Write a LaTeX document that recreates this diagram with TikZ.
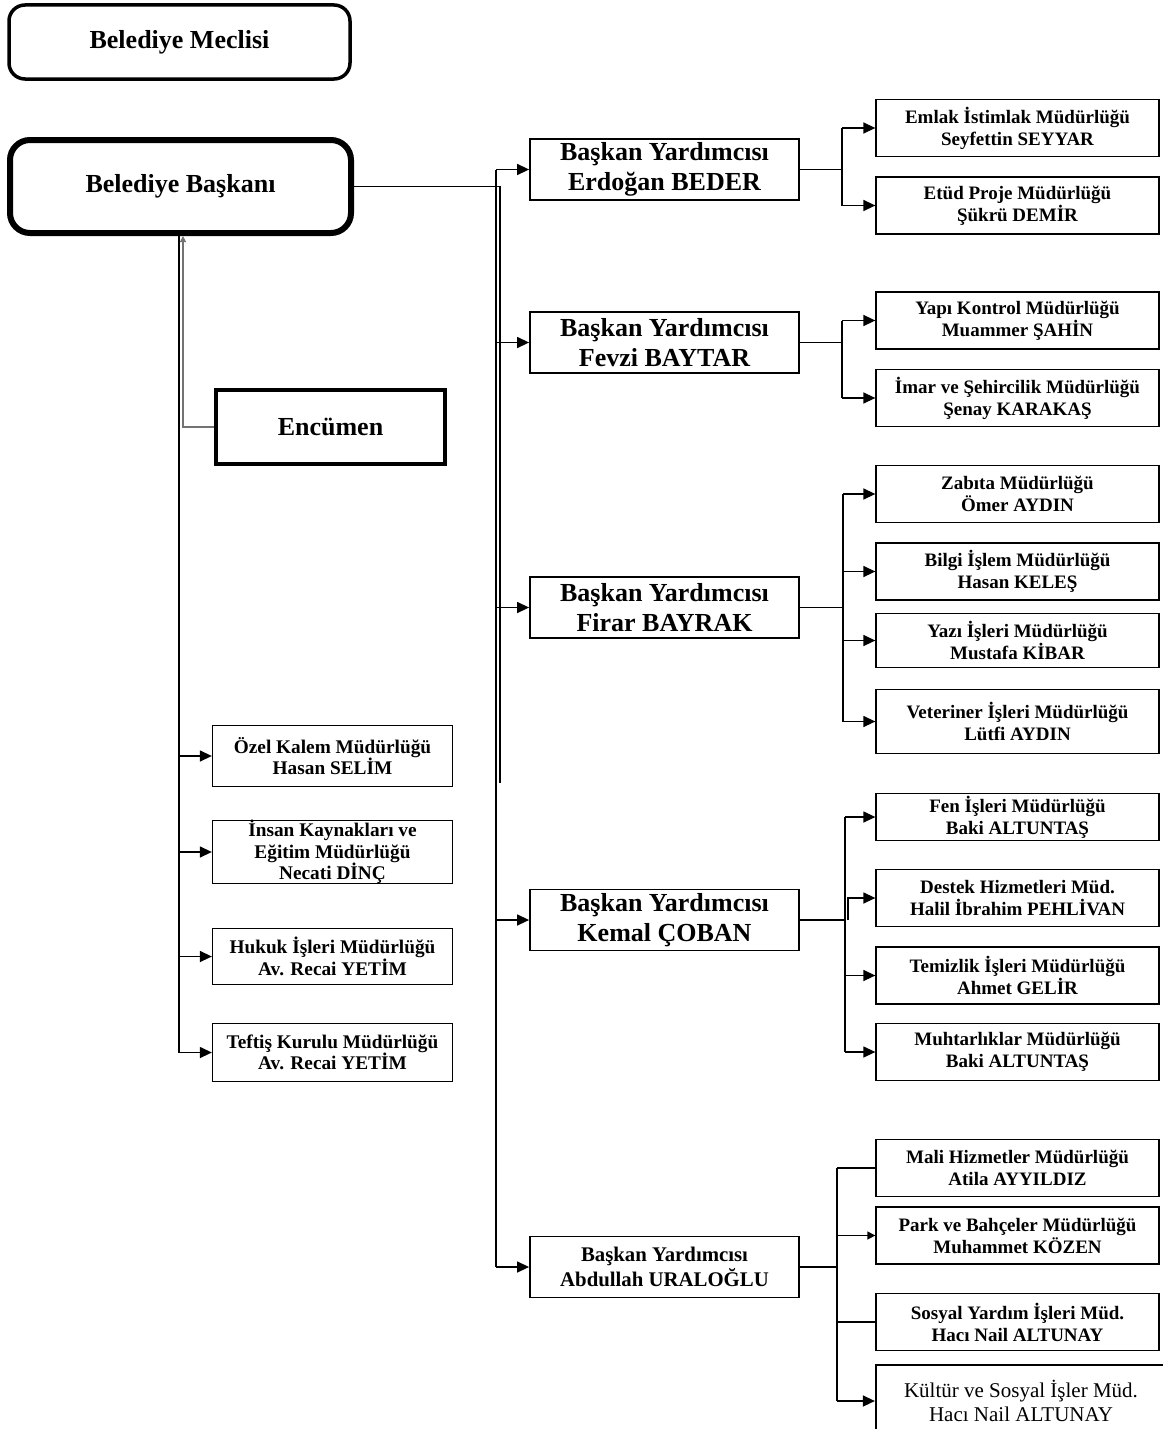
\documentclass[tikz,border=0pt]{standalone}
\usepackage{fontspec}
\setmainfont{Liberation Serif}
\usetikzlibrary{arrows.meta}
\tikzset{
  boss/.style={draw, align=center, inner sep=0pt, font=\fontsize{26}{30}\selectfont\bfseries},
  vice/.style={draw, line width=1.8pt, minimum width=269pt, minimum height=61pt, align=center, inner sep=0pt, font=\fontsize{26}{30}\selectfont\bfseries},
  unit/.style={draw, line width=1.3pt, minimum width=283pt, minimum height=57pt, align=center, inner sep=0pt, font=\fontsize{19}{22}\selectfont\bfseries},
  staff/.style={unit, minimum width=240pt, font=\fontsize{19.3}{21.5}\selectfont\bfseries},
  conn/.style={line width=1.4pt},
  arr/.style={conn, -{Triangle[length=12pt,width=11pt]}},
  gline/.style={line width=1.1pt, black!55}
}
\begin{document}
\begin{tikzpicture}[x=1pt, y=-1pt]
  \useasboundingbox (0,0) rectangle (1162,1429);

  \node[boss, line width=3.5pt, rounded corners=16pt, minimum width=341pt, minimum height=74pt] (mec) at (179.5,42) {Belediye Meclisi};
  \node[boss, line width=6pt, rounded corners=20pt, minimum width=341pt, minimum height=93pt] (bsk) at (180.5,186.5) {Belediye Başkanı};
  \node[boss, line width=4pt, minimum width=229pt, minimum height=74pt] (enc) at (330.5,427) {Encümen};

  \node[vice] (vp1) at (664.5,169.5) {Başkan Yardımcısı\\Erdoğan BEDER};
  \node[vice] (vp2) at (664.5,342.5) {Başkan Yardımcısı\\Fevzi BAYTAR};
  \node[vice] (vp3) at (664.5,607.5) {Başkan Yardımcısı\\Firar BAYRAK};
  \node[vice] (vp4) at (664.5,920) {Başkan Yardımcısı\\Kemal ÇOBAN};
  \node[vice, font=\fontsize{20.8}{25}\selectfont\bfseries] (vp5) at (664.5,1267) {Başkan Yardımcısı\\Abdullah URALOĞLU};

  \node[unit] (emlak) at (1017.5,128) {Emlak İstimlak Müdürlüğü\\Seyfettin SEYYAR};
  \node[unit] (etud) at (1017.5,205.5) {Etüd Proje Müdürlüğü\\Şükrü DEMİR};
  \node[unit] (yapi) at (1017.5,320.5) {Yapı Kontrol Müdürlüğü\\Muammer ŞAHİN};
  \node[unit] (imar) at (1017.5,398) {İmar ve Şehircilik Müdürlüğü\\Şenay KARAKAŞ};
  \node[unit] (zabita) at (1017.5,494) {Zabıta Müdürlüğü\\Ömer AYDIN};
  \node[unit] (bilgi) at (1017.5,571.5) {Bilgi İşlem Müdürlüğü\\Hasan KELEŞ};
  \node[unit, minimum height=54pt] (yazi) at (1017.5,640.5) {Yazı İşleri Müdürlüğü\\Mustafa KİBAR};
  \node[unit, minimum height=64pt] (veter) at (1017.5,721.5) {Veteriner İşleri Müdürlüğü\\Lütfi AYDIN};
  \node[unit, minimum height=47pt] (fen) at (1017.5,817) {Fen İşleri Müdürlüğü\\Baki ALTUNTAŞ};
  \node[unit] (destek) at (1017.5,898) {Destek Hizmetleri Müd.\\Halil İbrahim PEHLİVAN};
  \node[unit] (temiz) at (1017.5,975.5) {Temizlik İşleri Müdürlüğü\\Ahmet GELİR};
  \node[unit] (muhtar) at (1017.5,1052) {Muhtarlıklar Müdürlüğü\\Baki ALTUNTAŞ};
  \node[unit] (mali) at (1017.5,1168) {Mali Hizmetler Müdürlüğü\\Atila AYYILDIZ};
  \node[unit] (park) at (1017.5,1235.5) {Park ve Bahçeler Müdürlüğü\\Muhammet KÖZEN};
  \node[unit] (sosyal) at (1017.5,1322) {Sosyal Yardım İşleri Müd.\\Hacı Nail ALTUNAY};
  \node[unit, line width=2.2pt, minimum width=290pt, minimum height=72pt, font=\fontsize{21}{24}\selectfont] (kultur) at (1021,1401) {Kültür ve Sosyal İşler Müd.\\Hacı Nail ALTUNAY};

  \node[staff, minimum height=61pt] (ozel) at (332.5,756) {Özel Kalem Müdürlüğü\\Hasan SELİM};
  \node[staff, minimum height=59pt] (insan) at (332.5,852) {İnsan Kaynakları ve\\Eğitim Müdürlüğü\\Necati DİNÇ};
  \node[staff, minimum height=56pt] (hukuk) at (332.5,956.5) {Hukuk İşleri Müdürlüğü\\Av. Recai YETİM};
  \node[staff, minimum height=58pt] (teftis) at (332.5,1052.5) {Teftiş Kurulu Müdürlüğü\\Av. Recai YETİM};

  \coordinate (drop) at (500,783);
  \coordinate (trunk) at (496,0);
  \coordinate (stf) at (179,0);
  \coordinate (encx) at (183,0);
  \coordinate (b1) at (842,0);
  \coordinate (b2) at (842,0);
  \coordinate (b3) at (843,0);
  \coordinate (b4) at (845,0);
  \coordinate (b4j) at (848,0);
  \coordinate (b5) at (837,0);

  \draw[conn] (bsk.east) -| (drop);
  \draw[conn] (trunk |- vp1.west) -- (trunk |- vp5.west);
  \foreach \v in {vp1,vp2,vp3,vp4,vp5}
    \draw[arr] (trunk |- \v.west) -- (\v.west);

  \draw[conn] (stf |- bsk.south) -- (stf |- teftis.west);
  \foreach \s in {ozel,insan,hukuk,teftis}
    \draw[arr] (stf |- \s.west) -- (\s.west);
  \draw[gline, -{Triangle[length=6pt,width=6pt]}] (enc.west) -| (encx |- bsk.south);

  \draw[conn] (vp1.east) -- (b1 |- vp1.east);
  \draw[conn] (b1 |- emlak.west) -- (b1 |- etud.west);
  \foreach \u in {emlak,etud}
    \draw[arr] (b1 |- \u.west) -- (\u.west);

  \draw[conn] (vp2.east) -- (b2 |- vp2.east);
  \draw[conn] (b2 |- yapi.west) -- (b2 |- imar.west);
  \foreach \u in {yapi,imar}
    \draw[arr] (b2 |- \u.west) -- (\u.west);

  \draw[conn] (vp3.east) -- (b3 |- vp3.east);
  \draw[conn] (b3 |- zabita.west) -- (b3 |- veter.west);
  \foreach \u in {zabita,bilgi,yazi,veter}
    \draw[arr] (b3 |- \u.west) -- (\u.west);

  \draw[conn] (vp4.east) -- (b4 |- vp4.east);
  \draw[conn] (b4 |- fen.west) -- (b4 |- muhtar.west);
  \foreach \u in {fen,temiz,muhtar}
    \draw[arr] (b4 |- \u.west) -- (\u.west);
  \draw[arr] (b4j |- vp4.east) |- (destek.west);

  \draw[conn] (vp5.east) -- (b5 |- vp5.east);
  \draw[conn] (b5 |- mali.west) -- (b5 |- kultur.west);
  \draw[conn] (b5 |- mali.west) -- (mali.west);
  \draw[conn] (b5 |- sosyal.west) -- (sosyal.west);
  \draw[conn, -{Triangle[length=8pt,width=8pt]}] (b5 |- park.west) -- (park.west);
  \draw[arr] (b5 |- kultur.west) -- (kultur.west);
\end{tikzpicture}
\end{document}
